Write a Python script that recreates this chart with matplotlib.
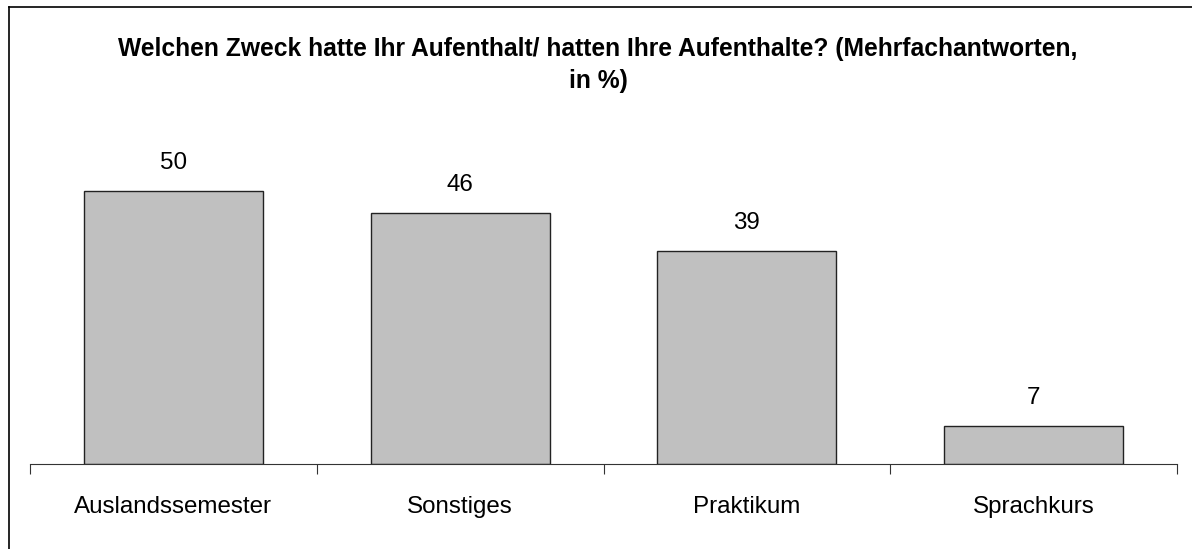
import matplotlib
matplotlib.use("Agg")
import matplotlib.pyplot as plt
from matplotlib.lines import Line2D

categories = ["Auslandssemester", "Sonstiges", "Praktikum", "Sprachkurs"]
values = [50, 46, 39, 7]
title = "Welchen Zweck hatte Ihr Aufenthalt/ hatten Ihre Aufenthalte? (Mehrfachantworten,\nin %)"

plt.rcParams['font.family'] = ['Liberation Sans', 'DejaVu Sans']

W, H = 1192, 549
fig = plt.figure(figsize=(W/100, H/100), dpi=100)
ax = fig.add_axes([30/W, 85/H, (1177-30)/W, 327.6/H])

x = list(range(len(categories)))
ax.bar(x, values, width=0.625, color="#C0C0C0", edgecolor="#222222", linewidth=1.0)
for xi, v in zip(x, values):
    ax.annotate(f"{v}", (xi, v), xytext=(0, 12), textcoords="offset points",
                ha="center", va="bottom", fontsize=17.4)

ax.set_xlim(-0.5, len(categories) - 0.5)
ax.set_ylim(0, 60)
ax.set_xticks(x)
ax.set_xticklabels(categories, fontsize=17.4)
ax.tick_params(axis="x", which="major", length=0, pad=23)
ax.set_xticks([i - 0.5 for i in range(len(categories) + 1)], minor=True)
ax.tick_params(axis="x", which="minor", length=7, width=0.8, color="#333333", direction="out")
ax.set_yticks([])
for s in ["top", "right", "left"]:
    ax.spines[s].set_visible(False)
ax.spines["bottom"].set_color("#333333")
ax.spines["bottom"].set_linewidth(0.8)

fig.text(598/W, 1 - 65/H, title, ha="center", va="center", fontsize=17.7,
         fontweight="bold", linespacing=1.45)

# figure frame (top & left visible)
fig.add_artist(Line2D([8.5/W, 8.5/W], [0, 1 - 6.5/H], transform=fig.transFigure, color="black", lw=1.2))
fig.add_artist(Line2D([8.5/W, 1], [1 - 6.5/H, 1 - 6.5/H], transform=fig.transFigure, color="black", lw=1.2))

fig.savefig("out.png", dpi=100)
